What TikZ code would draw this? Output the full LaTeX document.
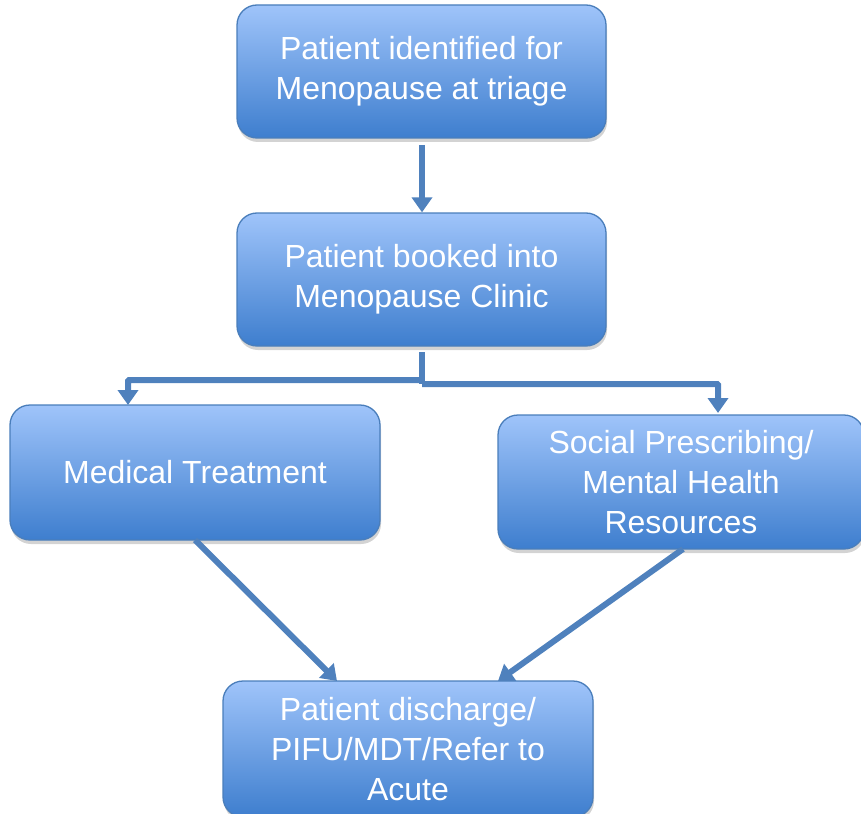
\documentclass[tikz,border=0pt]{standalone}
\usepackage{fontspec}
\setmainfont{Liberation Sans}
\usetikzlibrary{arrows.meta,shadows}
\definecolor{boxtop}{HTML}{9FC4FA}
\definecolor{boxbot}{HTML}{3E7ECE}
\definecolor{boxline}{HTML}{4A7EBB}
\definecolor{arrowc}{HTML}{4F81BD}
\tikzset{
  box/.style={draw=boxline, line width=1.3pt, rounded corners=20pt,
    top color=boxtop, bottom color=boxbot, text=white, align=center,
    font=\fontsize{32}{40}\selectfont, inner sep=0pt,
    drop shadow={opacity=0.35, shadow xshift=1pt, shadow yshift=-4pt}},
  conn/.style={draw=arrowc, line width=6pt, -{Triangle[width=20pt,length=15pt]}}
}
\begin{document}
\begin{tikzpicture}[x=1pt,y=-1pt]
\useasboundingbox (0,0) rectangle (861,813);
\node[box, minimum width=369pt, minimum height=133pt] (b1) at (421.5,71.5)
  {Patient identified for\\Menopause at triage};
\node[box, minimum width=369pt, minimum height=133pt] (b2) at (421.5,279.5)
  {Patient booked into\\Menopause Clinic};
\node[box, minimum width=370pt, minimum height=135pt] (b3) at (195,472.5)
  {Medical Treatment};
\node[box, minimum width=366pt, minimum height=134pt] (b4) at (681,482)
  {Social Prescribing/\\Mental Health\\Resources};
\node[box, minimum width=370pt, minimum height=136pt] (b5) at (408,749)
  {Patient discharge/\\PIFU/MDT/Refer to\\Acute};
\coordinate (s1) at (422,145);
\coordinate (s2) at (422,352);
\coordinate (jl) at (422,380);
\coordinate (jr) at (422,384);
\coordinate (t3) at (128,405);
\coordinate (t4) at (718,413);
\coordinate (s3) at (195,540);
\coordinate (t5a) at (337,681);
\coordinate (s4) at (683,549);
\coordinate (t5b) at (498,681);
\draw[conn] (s1) -- (s1 |- b2.north);
\draw[draw=arrowc, line width=6pt] (s2) -- (jr);
\draw[conn, rounded corners=1pt] (jl) -| (t3);
\draw[conn, rounded corners=1pt] (jr) -| (t4);
\draw[conn] (s3) -- (t5a);
\draw[conn] (s4) -- (t5b);
\end{tikzpicture}
\end{document}
